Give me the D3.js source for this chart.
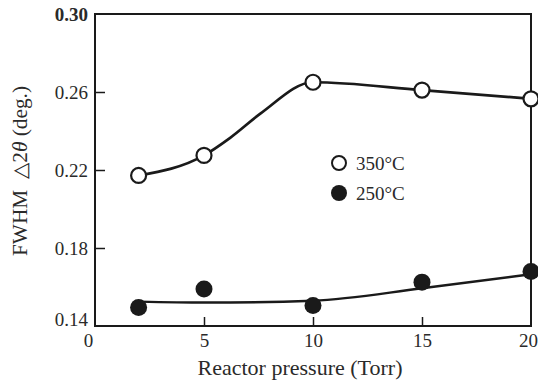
<!DOCTYPE html>
<html>
<head>
<meta charset="utf-8">
<script src="https://cdn.jsdelivr.net/npm/d3@7"></script>
<style>
  html, body { margin: 0; padding: 0; background: #fff; }
  svg { display: block; }
  text { font-family: "Liberation Serif", "DejaVu Serif", serif; fill: #2a2a2a; }
</style>
</head>
<body>
<svg id="chart" width="538" height="383"></svg>
<script>
// Measured FWHM of the rocking curve vs. reactor pressure
const pressure = [2, 5, 10, 15, 20];
const fwhm350 = [0.2172, 0.2275, 0.2650, 0.2610, 0.2565];
const fwhm250 = [0.1495, 0.1590, 0.1505, 0.1625, 0.1680];

// Smooth guide curves through / along the measurements
const guide350X = [2, 5, 6.2, 7.6, 10, 15, 20];
const guide350Y = [0.2172, 0.2275, 0.2365, 0.2490, 0.2650, 0.2610, 0.2565];
const guide250X = [2, 5, 10, 15, 20];
const guide250Y = [0.1525, 0.1520, 0.1530, 0.1593, 0.1665];

const xTicks = [0, 5, 10, 15, 20];
const yTicks = [0.14, 0.18, 0.22, 0.26, 0.30];
const seriesLabels = ["350°C", "250°C"];

const W = 538, H = 383;
const margin = { top: 14, right: 7, bottom: 57, left: 95 };
const svg = d3.select("#chart");

const x = d3.scaleLinear().domain([0, 20]).range([margin.left, W - margin.right]);
const y = d3.scaleLinear().domain([0.14, 0.30]).range([H - margin.bottom, margin.top]);

const ink = "#1a1a1a";

// Frame
svg.append("rect")
  .attr("x", x(0)).attr("y", y(0.30))
  .attr("width", x(20) - x(0)).attr("height", y(0.14) - y(0.30))
  .attr("fill", "none").attr("stroke", ink).attr("stroke-width", 2);

// Bottom axis, ticks pointing inward
const xAxis = svg.append("g")
  .attr("transform", `translate(0,${y(0.14)})`)
  .call(d3.axisBottom(x).tickValues(xTicks).tickSize(-9).tickPadding(7).tickFormat(d3.format("d")));
xAxis.select(".domain").remove();
xAxis.selectAll(".tick line").attr("stroke", ink).attr("stroke-width", 1.5)
  .filter(d => d === 0 || d === 20).remove();
xAxis.selectAll(".tick text")
  .attr("font-size", 19).attr("font-family", "Liberation Serif").attr("fill", "#2a2a2a")
  .attr("dx", d => d === 0 ? -7 : d === 20 ? -3 : 0)
  .attr("dy", "0.74em");

// Left axis, ticks pointing inward
const yAxis = svg.append("g")
  .attr("transform", `translate(${x(0)},0)`)
  .call(d3.axisLeft(y).tickValues(yTicks).tickSize(-10).tickPadding(7).tickFormat(d3.format(".2f")));
yAxis.select(".domain").remove();
yAxis.selectAll(".tick line").attr("stroke", ink).attr("stroke-width", 1.5)
  .filter(d => d === 0.14 || d === 0.30).remove();
yAxis.selectAll(".tick text")
  .attr("font-size", 19).attr("font-family", "Liberation Serif").attr("fill", "#2a2a2a")
  .attr("dy", d => d === 0.14 ? "-0.02em" : "0.34em")
  .attr("font-weight", d => d === 0.30 ? "bold" : null);

// Axis titles
svg.append("text")
  .attr("x", 300).attr("y", 375)
  .attr("text-anchor", "middle").attr("font-size", 21)
  .attr("textLength", 205).attr("lengthAdjust", "spacingAndGlyphs")
  .text("Reactor pressure (Torr)");

const yTitle = svg.append("text")
  .attr("transform", `translate(27,171) rotate(-90)`)
  .attr("text-anchor", "middle").attr("font-size", 20)
  .attr("textLength", 170).attr("lengthAdjust", "spacingAndGlyphs");
yTitle.append("tspan").text("FWHM\u2002\u25B32");
yTitle.append("tspan").attr("font-style", "italic").text("θ");
yTitle.append("tspan").text(" (deg.)");

// Guide curves
const line = d3.line().x(d => x(d[0])).y(d => y(d[1])).curve(d3.curveMonotoneX);
svg.append("path")
  .datum(d3.zip(guide350X, guide350Y))
  .attr("d", line).attr("fill", "none").attr("stroke", ink).attr("stroke-width", 2.7);
svg.append("path")
  .datum(d3.zip(guide250X, guide250Y))
  .attr("d", line).attr("fill", "none").attr("stroke", ink).attr("stroke-width", 2.5);

// Markers
svg.append("g").selectAll("circle")
  .data(d3.zip(pressure, fwhm250)).join("circle")
  .attr("cx", d => x(d[0])).attr("cy", d => y(d[1])).attr("r", 8.5)
  .attr("fill", ink);
svg.append("g").selectAll("circle")
  .data(d3.zip(pressure, fwhm350)).join("circle")
  .attr("cx", d => x(d[0])).attr("cy", d => y(d[1])).attr("r", 7.5)
  .attr("fill", "#fff").attr("stroke", ink).attr("stroke-width", 2.2);

// Legend
const legend = svg.append("g").attr("transform", "translate(339,163)");
seriesLabels.forEach((lab, i) => {
  const g = legend.append("g").attr("transform", `translate(0,${i * 30})`);
  g.append("circle").attr("r", i === 0 ? 7 : 8)
    .attr("fill", i === 0 ? "#fff" : ink)
    .attr("stroke", ink).attr("stroke-width", i === 0 ? 2 : 0);
  g.append("text").attr("x", 17).attr("dy", "0.35em").attr("font-size", 19).text(lab);
});
</script>
</body>
</html>
